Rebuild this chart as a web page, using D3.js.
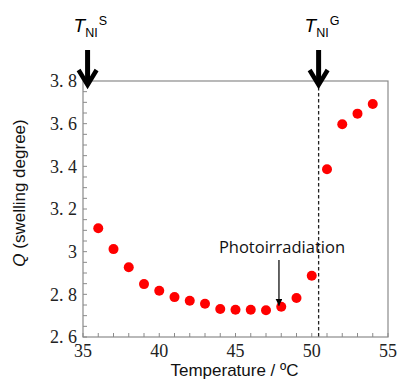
<!DOCTYPE html>
<html>
<head>
<meta charset="utf-8">
<script src="https://cdn.jsdelivr.net/npm/d3@7"></script>
<style>
  body { margin: 0; background: #fff; }
  svg { display: block; }
</style>
</head>
<body>
<div id="chart"></div>
<script>
// data
var temperatures = [36, 37, 38, 39, 40, 41, 42, 43, 44, 45, 46, 47, 48, 49, 50, 51, 52, 53, 54];
var swelling     = [3.11, 3.012, 2.927, 2.848, 2.817, 2.787, 2.77, 2.756, 2.731, 2.728, 2.728, 2.725, 2.742, 2.783, 2.887, 3.386, 3.597, 3.647, 3.692];
var xTicks = [35, 40, 45, 50, 55];
var yTicks = [2.6, 2.8, 3.0, 3.2, 3.4, 3.6, 3.8];
var yTickLabels = ["2. 6", "2. 8", "3", "3. 2", "3. 4", "3. 6", "3. 8"];
var transitions = [
  {temp: 35.3, sup: "S", dashed: false},
  {temp: 50.45, sup: "G", dashed: true}
];
var photoTemp = 47.85;

var W = 400, H = 388;
var margin = {top: 81, right: 12, bottom: 51, left: 83};
var width = W - margin.left - margin.right;
var height = H - margin.top - margin.bottom;

var svg = d3.select("#chart").append("svg")
  .attr("width", W)
  .attr("height", H);

var defs = svg.append("defs");
defs.append("marker")
  .attr("id", "smallhead")
  .attr("viewBox", "0 0 10 10")
  .attr("refX", 10).attr("refY", 5)
  .attr("markerWidth", 7).attr("markerHeight", 7)
  .attr("markerUnits", "userSpaceOnUse")
  .attr("orient", "auto")
  .append("path").attr("d", "M0,0L10,5L0,10z").attr("fill", "#000");

var g = svg.append("g")
  .attr("transform", "translate(" + margin.left + "," + margin.top + ")");

var x = d3.scaleLinear().domain([35, 55]).range([0, width]);
var y = d3.scaleLinear().domain([2.6, 3.8]).range([height, 0]);

var frameColor = "#8a8a8a";

// minor ticks (inward)
var xMinor = d3.range(35, 55.01, 1);
var yMinor = d3.range(2.6, 3.801, 0.05);

g.append("g").selectAll("line").data(xMinor).enter().append("line")
  .attr("x1", d => x(d)).attr("x2", d => x(d))
  .attr("y1", height).attr("y2", height - 4)
  .attr("stroke", frameColor).attr("stroke-width", 1);

g.append("g").selectAll("line").data(yMinor).enter().append("line")
  .attr("x1", 0).attr("x2", 4)
  .attr("y1", d => y(d)).attr("y2", d => y(d))
  .attr("stroke", frameColor).attr("stroke-width", 1);

// frame
g.append("rect")
  .attr("x", 0).attr("y", 0)
  .attr("width", width).attr("height", height)
  .attr("fill", "none")
  .attr("stroke", frameColor)
  .attr("stroke-width", 1.2);

// tick labels
var tickFont = "'Liberation Serif', 'DejaVu Serif', serif";
g.append("g").selectAll("text").data(xTicks).enter().append("text")
  .attr("x", d => x(d))
  .attr("y", height + 20)
  .attr("text-anchor", "middle")
  .attr("font-family", tickFont)
  .attr("font-size", 18)
  .attr("fill", "#222")
  .text(d => d);

g.append("g").selectAll("text").data(yTicks).enter().append("text")
  .attr("x", -6)
  .attr("y", d => y(d))
  .attr("dy", "0.35em")
  .attr("text-anchor", "end")
  .attr("font-family", tickFont)
  .attr("font-size", 18)
  .attr("fill", "#222")
  .attr("xml:space", "preserve")
  .style("white-space", "pre")
  .text((d, i) => yTickLabels[i]);

// dashed transition line
transitions.filter(t => t.dashed).forEach(function(t){
  g.append("line")
    .attr("x1", x(t.temp)).attr("x2", x(t.temp))
    .attr("y1", 0).attr("y2", height)
    .attr("stroke", "#222")
    .attr("stroke-width", 1.3)
    .attr("stroke-dasharray", "3.5,2.5");
});

// points
g.append("g").selectAll("circle")
  .data(temperatures.map((t, i) => ({t: t, q: swelling[i]})))
  .enter().append("circle")
  .attr("cx", d => x(d.t))
  .attr("cy", d => y(d.q))
  .attr("r", 5)
  .attr("fill", "#ff0000");

// big arrows + labels
var sansFont = "'Liberation Sans', Arial, sans-serif";
transitions.forEach(function(t){
  var cx = x(t.temp);
  g.append("line")
    .attr("x1", cx).attr("x2", cx)
    .attr("y1", -31).attr("y2", 2)
    .attr("stroke", "#000").attr("stroke-width", 5);
  g.append("path")
    .attr("d", "M" + (cx - 9) + "," + (-11) + "L" + cx + "," + 4 + "L" + (cx + 9) + "," + (-11))
    .attr("fill", "none")
    .attr("stroke", "#000")
    .attr("stroke-width", 4.5)
    .attr("stroke-linejoin", "miter");
  var lab = g.append("text")
    .attr("x", cx - 14)
    .attr("y", -49)
    .attr("font-family", sansFont)
    .attr("fill", "#000");
  lab.append("tspan").attr("font-size", 19).attr("font-style", "italic").text("T");
  lab.append("tspan").attr("font-size", 12.5).attr("dy", 5).text("NI");
  lab.append("tspan").attr("font-size", 12.5).attr("dy", -12).attr("dx", 1).text(t.sup);
});

// photoirradiation annotation
var pIdx = temperatures.indexOf(48);
var px = x(photoTemp);
g.append("text")
  .attr("x", px + 3)
  .attr("y", 253 - margin.top)
  .attr("text-anchor", "middle")
  .attr("font-family", "'Open Sans', 'Noto Sans', sans-serif")
  .attr("font-size", 16.5)
  .attr("fill", "#111")
  .text("Photoirradiation");
g.append("line")
  .attr("x1", px).attr("x2", px)
  .attr("y1", 260 - margin.top)
  .attr("y2", y(swelling[pIdx]) - 1)
  .attr("stroke", "#111")
  .attr("stroke-width", 1.3)
  .attr("marker-end", "url(#smallhead)");

// axis titles
svg.append("text")
  .attr("x", margin.left + width / 2 - 1)
  .attr("y", 376)
  .attr("text-anchor", "middle")
  .attr("font-family", sansFont)
  .attr("font-size", 17)
  .attr("fill", "#111")
  .text("Temperature / ºC");

var yt = svg.append("text")
  .attr("transform", "translate(25,193) rotate(-90)")
  .attr("text-anchor", "middle")
  .attr("font-family", sansFont)
  .attr("font-size", 17)
  .attr("fill", "#111");
yt.append("tspan").attr("font-style", "italic").text("Q");
yt.append("tspan").text(" (swelling degree)");
</script>
</body>
</html>
